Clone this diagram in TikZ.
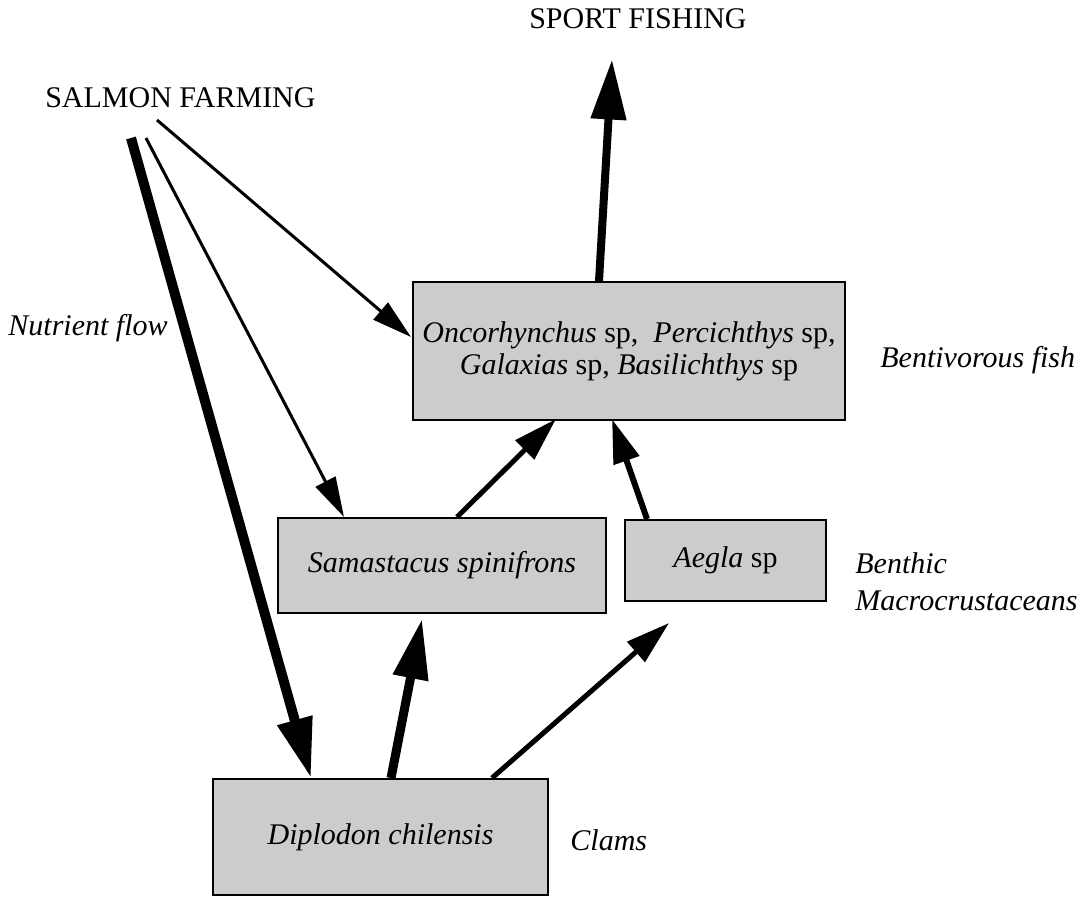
\documentclass[tikz,border=0pt]{standalone}
\usepackage{fontspec}
\setmainfont{Liberation Serif}
\usetikzlibrary{arrows.meta,calc}
\begin{document}
\begin{tikzpicture}[x=0.5pt,y=-0.5pt,
  box/.style={draw=black,line width=1pt,fill=black!20,inner sep=0pt,align=center,
    font=\fontsize{15}{16}\selectfont},
  lab/.style={inner sep=0pt,font=\fontsize{15}{16}\selectfont},
  ilab/.style={inner sep=0pt,font=\fontsize{15}{18.5}\selectfont\itshape},
  bigarrow/.style={-{Triangle[length=30pt,width=17pt]}},
  medarrow/.style={-{Triangle[length=22pt,width=13pt]}},
  thinarrow/.style={-{Triangle[length=20pt,width=11pt]},line width=1.5pt}
]
\useasboundingbox (0,0) rectangle (1081,896);
% boxes
\node[box,minimum width=216pt,minimum height=69pt] (fish) at (629,351)
  {\textit{Oncorhynchus} sp,\ \ \textit{Percichthys} sp,\\[0pt] \textit{Galaxias} sp, \textit{Basilichthys} sp};
\node[box,minimum width=164pt,minimum height=47.5pt] (samas) at (442,565.5) {\textit{Samastacus spinifrons}};
\node[box,minimum width=100.5pt,minimum height=40.5pt] (aegla) at (725.5,560.5) {\textit{Aegla} sp};
\node[box,minimum width=167.5pt,minimum height=58pt] (diplo) at (380.5,837) {\textit{Diplodon chilensis}};
% labels
\node[lab] (sport) at (638,19) {SPORT FISHING};
\node[lab,anchor=east] (salmon) at (316,98) {SALMON FARMING};
\node[ilab,anchor=east] (nutrient) at (168,328) {Nutrient flow};
\node[ilab,anchor=west] (bentiv) at (880,360) {Bentivorous fish};
\node[ilab,anchor=west,align=left] (benthic) at (855,581.5) {Benthic\\Macrocrustaceans};
\node[ilab,anchor=west] (clams) at (570,840) {Clams};
% free ends
\coordinate (sA) at (131,138);
\coordinate (sB) at (146,138);
\coordinate (sC) at (157,120);
% connectors
\draw[bigarrow,line width=4pt] ($(fish.north west)+(187,0)$) -- ($(sport.south)+(-26,30)$);
\draw[bigarrow,line width=5pt] (sA) -- ($(diplo.north west)+(99,0)$);
\draw[thinarrow] (sB) -- ($(samas.north west)+(67,0)$);
\draw[thinarrow] (sC) -- ($(fish.west)+(-1,-14)$);
\draw[medarrow,line width=2.5pt] ($(samas.north west)+(180,0)$) -- ($(fish.south west)+(144,-2)$);
\draw[medarrow,line width=3pt] ($(aegla.north west)+(23,0)$) -- ($(fish.south west)+(200,-2)$);
\draw[bigarrow,line width=4.5pt] ($(diplo.north west)+(179,0)$) -- ($(samas.south west)+(145,5)$);
\draw[medarrow,line width=2.5pt] ($(diplo.north west)+(280,0)$) -- ($(aegla.south west)+(45,21)$);
\end{tikzpicture}
\end{document}
